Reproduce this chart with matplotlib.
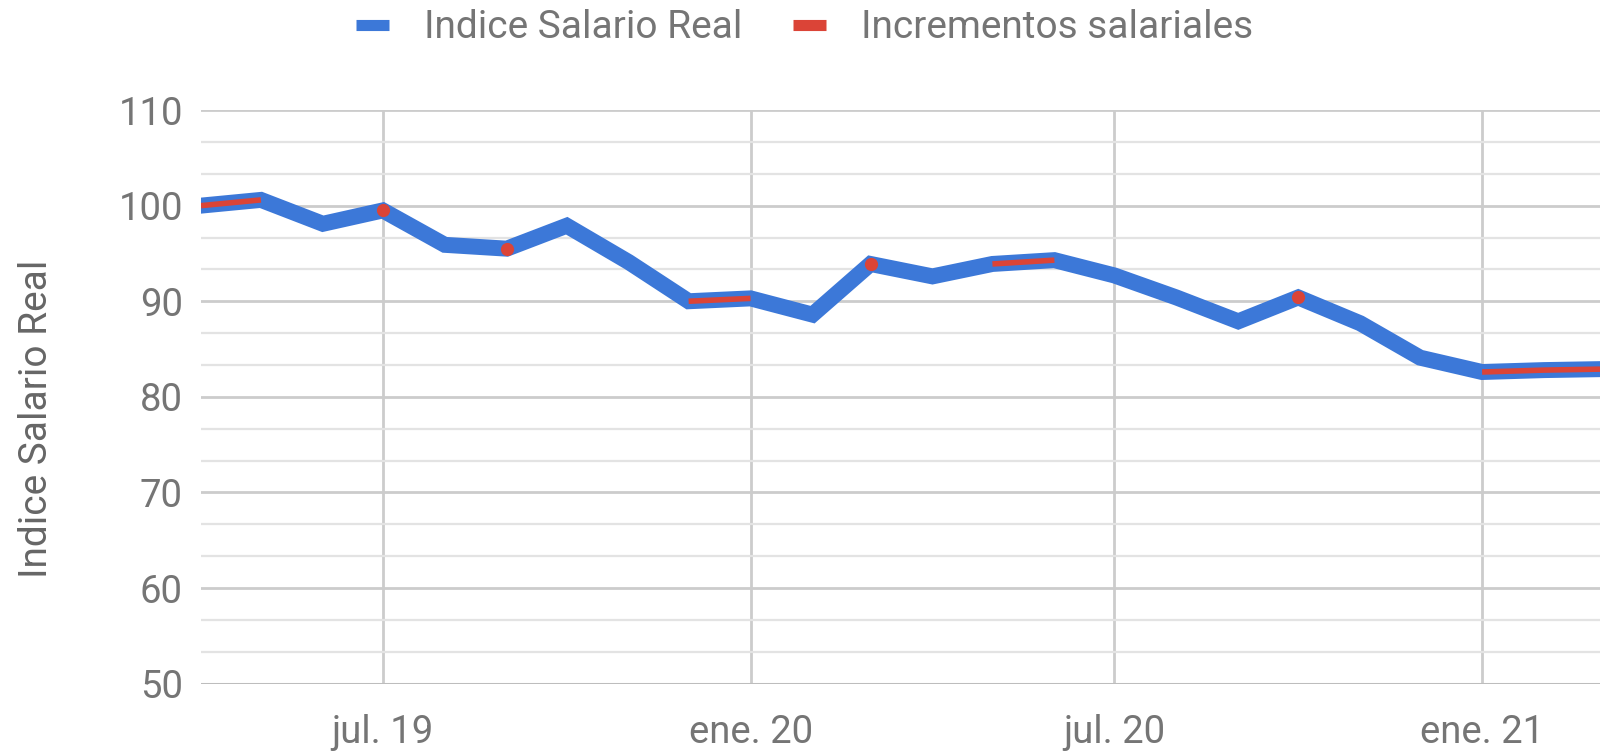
import numpy as np
import pandas as pd
import matplotlib
matplotlib.use('Agg')
import matplotlib.pyplot as plt
from matplotlib.ticker import MultipleLocator
from matplotlib.lines import Line2D

plt.rcParams['font.family'] = ['Roboto', 'DejaVu Sans']

# Datos mensuales (abr. 2019 - mar. 2021)
meses = ['2019-04', '2019-05', '2019-06', '2019-07', '2019-08', '2019-09',
         '2019-10', '2019-11', '2019-12', '2020-01', '2020-02', '2020-03',
         '2020-04', '2020-05', '2020-06', '2020-07', '2020-08', '2020-09',
         '2020-10', '2020-11', '2020-12', '2021-01', '2021-02', '2021-03']

indice_salario_real = [100.0, 100.6, 98.1, 99.5, 95.9, 95.5,
                       97.9, 94.1, 90.0, 90.3, 88.6, 93.9,
                       92.6, 93.9, 94.3, 92.7, 90.4, 87.9,
                       90.4, 87.7, 84.1, 82.6, 82.8, 82.9]

# Meses con incremento salarial (NaN = sin incremento)
incrementos = [100.0, 100.6, np.nan, 99.5, np.nan, 95.5,
               np.nan, np.nan, 90.0, 90.3, np.nan, 93.9,
               np.nan, 93.9, 94.3, np.nan, np.nan, np.nan,
               90.4, np.nan, np.nan, 82.6, 82.8, 82.9]

etiquetas_x = ['jul. 19', 'ene. 20', 'jul. 20', 'ene. 21']
fechas_x = ['2019-07', '2020-01', '2020-07', '2021-01']

azul = '#3c78d8'
rojo = '#db4437'
gris_texto = '#757575'

fechas = pd.to_datetime(meses)
inc = pd.Series(incrementos, index=fechas)

fig = plt.figure(figsize=(16, 7.52), dpi=100)
ax = fig.add_axes([0.1256, 0.0908, 0.8744, 0.7629])

ax.plot(fechas, indice_salario_real, color=azul, lw=11.5, solid_joinstyle='miter', zorder=3)
ax.plot(fechas, inc.values, color=rojo, lw=4, solid_capstyle='butt', zorder=4)

# puntos aislados (sin vecinos) se dibujan como marcador
aislado = inc.notna() & inc.shift(1).isna() & inc.shift(-1).isna()
ax.plot(fechas[aislado.values], inc[aislado].values, 'o', color=rojo, ms=8.5, zorder=5)

ax.set_xlim(pd.Timestamp('2019-04-01'), pd.Timestamp('2021-03-01'))
ax.set_ylim(50, 110)

ax.yaxis.set_major_locator(MultipleLocator(10))
ax.yaxis.set_minor_locator(MultipleLocator(10 / 3))
ax.set_xticks(pd.to_datetime(fechas_x))
ax.set_xticklabels(etiquetas_x)

ax.grid(axis='y', which='major', color='#cccccc', lw=2)
ax.grid(axis='y', which='minor', color='#e3e3e3', lw=1.6)
ax.grid(axis='x', which='major', color='#cccccc', lw=2)

for s in ax.spines.values():
    s.set_visible(False)
ax.axhline(50, color='#bdbdbd', lw=2.2, zorder=2)

ax.tick_params(axis='both', which='both', length=0, labelsize=27.5, colors=gris_texto)
ax.tick_params(axis='y', pad=13)
ax.tick_params(axis='x', pad=22)

ax.set_ylabel('Indice Salario Real', fontsize=28, color='#666666')
ax.yaxis.set_label_coords(-0.104, 0.462)

handles = [Line2D([], [], color=azul, lw=8, solid_capstyle='butt'),
           Line2D([], [], color=rojo, lw=8, solid_capstyle='butt')]
leg = fig.legend(handles, ['Indice Salario Real', 'Incrementos salariales'],
                 loc='center', bbox_to_anchor=(0.503, 0.963), ncol=2, frameon=False,
                 fontsize=28, handlelength=0.85, handletextpad=0.9, columnspacing=1.3)
for t in leg.get_texts():
    t.set_color(gris_texto)

plt.savefig('out.png', dpi=100)
